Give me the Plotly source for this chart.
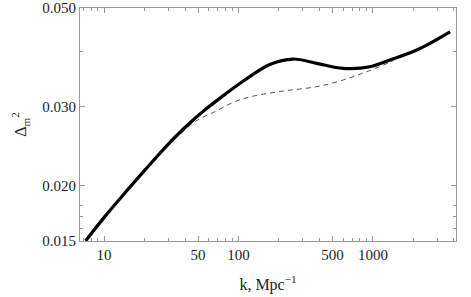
import plotly.graph_objects as go

# Solid curve (thick)
k_solid = [7.3, 10.09, 14.21, 20.03, 28.22, 39.78, 56.06, 79.0, 111.3, 170.9,
           254.8, 380.6, 600.8, 950.0, 1338.0, 2116.0, 3747.0]
v_solid = [0.01502, 0.01699, 0.01919, 0.02160, 0.02425, 0.02693, 0.02951, 0.03196,
           0.03446, 0.03735, 0.03841, 0.03757, 0.03660, 0.03690, 0.03822, 0.04024, 0.04422]

# Dashed curve (thin)
k_dash = [7.3, 10.09, 14.21, 20.03, 28.22, 36.5, 48.0, 66.5, 93.8, 124.9, 214.7,
          380.6, 600.8, 897.0, 1338.0, 1600.0]
v_dash = [0.01502, 0.01699, 0.01919, 0.02160, 0.02425, 0.02600, 0.02785, 0.02925,
          0.03081, 0.03164, 0.03256, 0.03329, 0.03447, 0.03597, 0.03780, 0.03900]

x_ticks = [10, 50, 100, 500, 1000]
x_ticktext = ["10", "50", "100", "500", "1000"]
x_minor = [7, 8, 9, 20, 30, 40, 60, 70, 80, 90, 200, 300, 400, 600, 700, 800, 900,
           2000, 3000, 4000]
y_ticks = [0.015, 0.020, 0.030, 0.050]
y_ticktext = ["0.015", "0.020", "0.030", "0.050"]
y_minor = [0.016, 0.017, 0.018, 0.040]

fig = go.Figure()
fig.add_trace(go.Scatter(x=k_dash, y=v_dash, mode="lines",
                         line=dict(color="#555555", width=1, dash="5px,4px", shape="spline"),
                         showlegend=False, hoverinfo="skip"))
fig.add_trace(go.Scatter(x=k_solid, y=v_solid, mode="lines",
                         line=dict(color="black", width=3.2, shape="spline"),
                         showlegend=False, hoverinfo="skip"))

axis_common = dict(
    showgrid=False, zeroline=False, showline=True, linecolor="#999999", linewidth=1,
    mirror="ticks", ticks="inside", tickcolor="#999999", ticklen=5, tickwidth=1,
)

fig.update_xaxes(
    type="log", range=[0.821, 3.618],
    tickmode="array", tickvals=x_ticks, ticktext=x_ticktext,
    minor=dict(tickvals=x_minor, ticks="inside", ticklen=3, tickcolor="#999999"),
    title=dict(text="k, Mpc<sup>−1</sup>", font=dict(size=16), standoff=16),
    tickfont=dict(size=15),
    **axis_common,
)
fig.update_yaxes(
    type="log", range=[-1.82391, -1.30103],
    tickmode="array", tickvals=y_ticks, ticktext=y_ticktext,
    minor=dict(tickvals=y_minor, ticks="inside", ticklen=3, tickcolor="#999999"),
    title=dict(text="Δ<sub>m</sub><sup>2</sup>", font=dict(size=16), standoff=11),
    tickfont=dict(size=15),
    **axis_common,
)

fig.update_layout(
    width=471, height=297,
    margin=dict(l=80, r=15, t=8, b=56, autoexpand=False),
    paper_bgcolor="white", plot_bgcolor="white",
    font=dict(family="Liberation Serif", color="#222222"),
)

fig.write_html("out.html", config={"displayModeBar": False},
               post_script="document.body.style.margin='0';")
